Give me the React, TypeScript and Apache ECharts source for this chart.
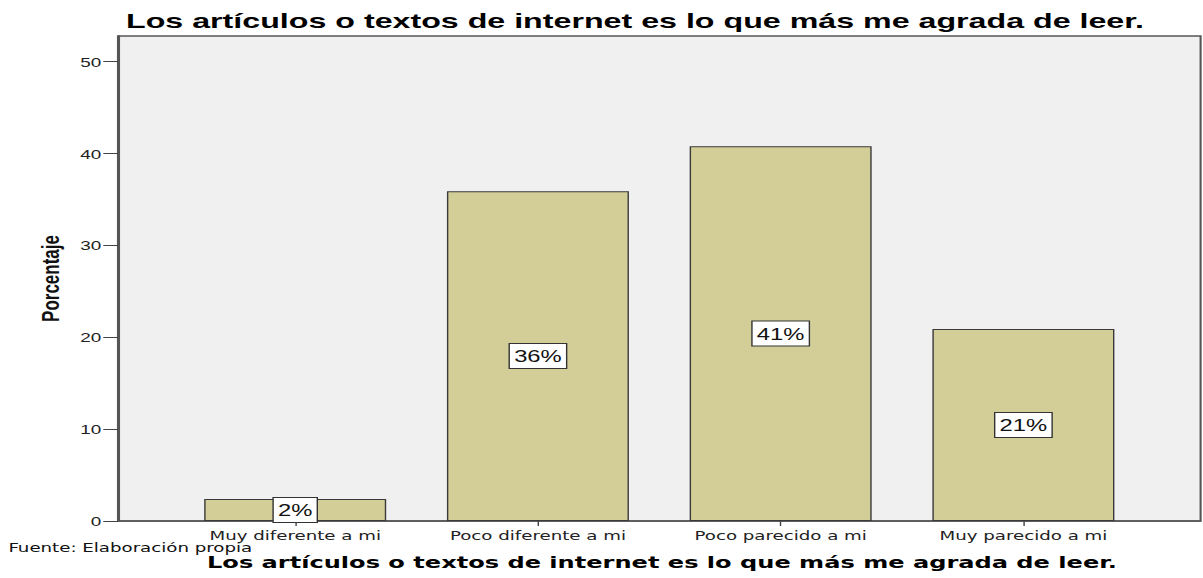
import React, { useEffect, useRef } from "react";
import * as echarts from "echarts";

const categories = ["Muy diferente a mi", "Poco diferente a mi", "Poco parecido a mi", "Muy parecido a mi"];
const positions = [1, 2, 3, 4];
const percentages = [2.4, 35.9, 40.8, 20.9];
const yTicks = [0, 10, 20, 30, 40, 50];
const titleText = "Los artículos o textos de internet es lo que más me agrada de leer.";
const sourceText = "Fuente: Elaboración propia";
const yName = "Porcentaje";

const S = 1.4;
const W = 1203 / S;
const H = 578;
const FONT = "'Liberation Sans', Arial, sans-serif";
const WIDE = "'DejaVu Sans', Verdana, sans-serif";

export default function App() {
  const ref = useRef<HTMLDivElement>(null);
  useEffect(() => {
    if (!ref.current) return;
    const chart = echarts.init(ref.current, null, { renderer: "svg" });
    chart.setOption({
      animation: false,
      textStyle: { fontFamily: FONT },
      grid: {
        left: 118 / S,
        right: 2 / S,
        top: 36,
        bottom: 57,
        show: true,
        backgroundColor: "#f0f0f0",
        borderColor: "#555",
        borderWidth: 1.5,
      },
      xAxis: {
        type: "value",
        min: 0.27,
        max: 4.73,
        splitLine: { show: false },
        axisLine: { show: true, lineStyle: { color: "#555", width: 1.5 } },
        axisTick: { show: true, customValues: positions, length: 5, lineStyle: { color: "#444" } },
        axisLabel: {
          customValues: positions,
          margin: 8,
          fontSize: 13,
          color: "#222",
          fontFamily: WIDE,
          formatter: (v: number) => categories[positions.indexOf(v)] ?? "",
        },
      },
      yAxis: {
        type: "value",
        min: 0,
        max: 52.8,
        interval: 10,
        name: yName,
        nameLocation: "middle",
        nameRotate: 90,
        nameGap: 40,
        nameTextStyle: { fontSize: 17, fontWeight: "bold", color: "#111", fontFamily: FONT },
        splitLine: { show: false },
        axisLine: { show: true, lineStyle: { color: "#555", width: 1.5 } },
        axisTick: { show: true, customValues: yTicks, length: 10.5, lineStyle: { color: "#444" } },
        axisLabel: { customValues: yTicks, margin: 12, fontSize: 13.5, color: "#222", fontFamily: FONT },
      },
      series: [
        {
          type: "bar",
          barWidth: 130,
          data: positions.map((p, i) => [p, percentages[i]]),
          itemStyle: { color: "#d3ce97", borderColor: "#3a3a3a", borderWidth: 1 },
          label: {
            show: true,
            position: "inside",
            formatter: (p: any) => Math.round(p.value[1]) + "%",
            fontSize: 17,
            lineHeight: 19,
            color: "#111",
            fontFamily: FONT,
            backgroundColor: "#fff",
            borderColor: "#333",
            borderWidth: 1,
            padding: [3, 3, 2, 3],
          },
        },
      ],
      graphic: [
        {
          type: "text",
          x: 126 / S,
          y: 11,
          scaleX: 1.15,
          style: { text: titleText, fontSize: 20, fontWeight: "bold", fill: "#000", fontFamily: FONT, textAlign: "left", textVerticalAlign: "top" },
        },
        {
          type: "text",
          x: 6,
          y: 541,
          style: { text: sourceText, fontSize: 13, fill: "#111", fontFamily: WIDE, textAlign: "left", textVerticalAlign: "top" },
        },
        {
          type: "text",
          x: 207 / S,
          y: 555,
          scaleX: 1.075,
          style: { text: titleText, fontSize: 16, fontWeight: "bold", fill: "#000", fontFamily: WIDE, textAlign: "left", textVerticalAlign: "top" },
        },
      ],
    });
    return () => chart.dispose();
  }, []);
  return (
    <div
      style={{
        position: "fixed",
        left: 0,
        top: 0,
        width: W,
        height: H,
        transform: `scaleX(${S})`,
        transformOrigin: "0 0",
        background: "#fff",
      }}
    >
      <div ref={ref} style={{ width: W, height: H }} />
    </div>
  );
}
